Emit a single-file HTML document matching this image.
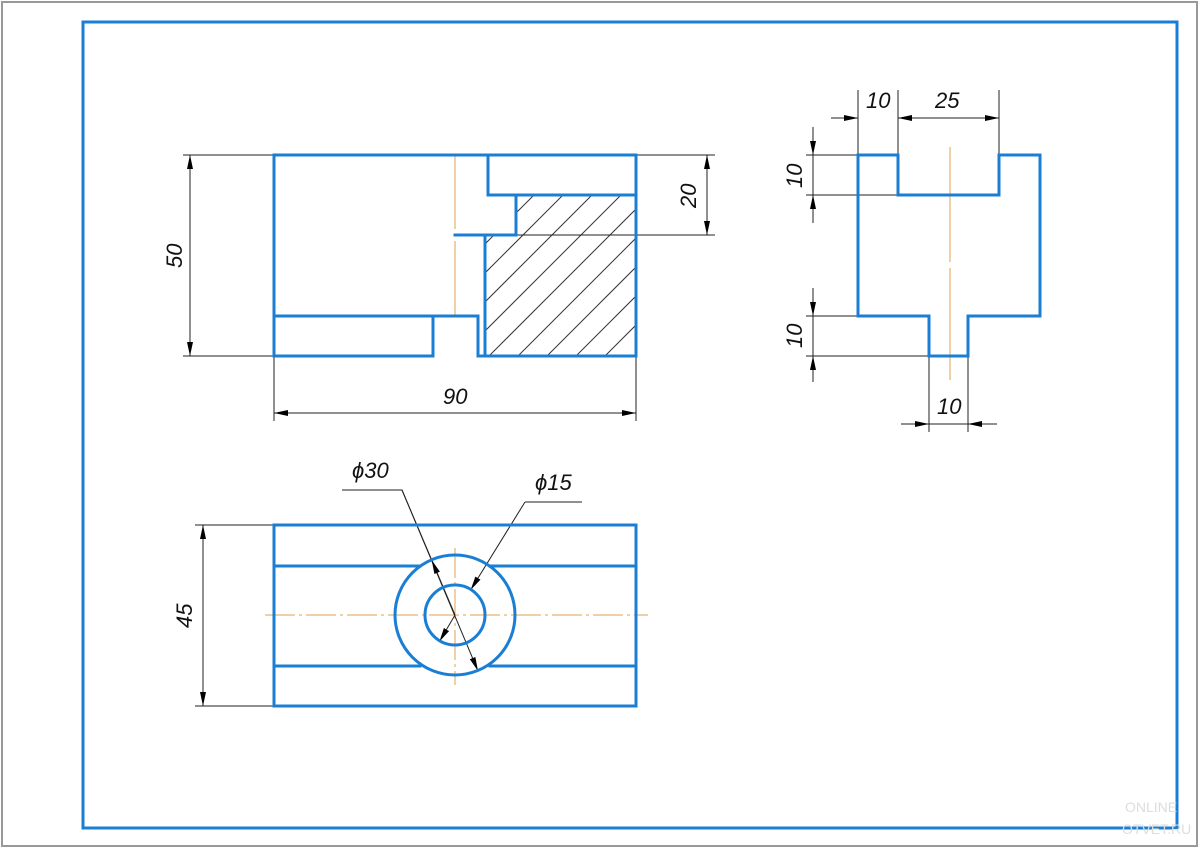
<!DOCTYPE html>
<html><head><meta charset="utf-8"><style>
html,body{margin:0;padding:0;background:#fff;}
svg{display:block;}
text{font-family:"Liberation Sans",sans-serif;font-style:italic;font-size:22px;fill:#111;}
</style></head><body>
<svg width="1200" height="850" viewBox="0 0 1200 850" xmlns="http://www.w3.org/2000/svg">
<defs>
<marker id="a" viewBox="0 0 14 6" refX="14" refY="3" markerWidth="14" markerHeight="6" markerUnits="userSpaceOnUse" orient="auto-start-reverse">
<path d="M0,0 L14,3 L0,6 z" fill="#000"/></marker>
<clipPath id="sec"><polygon points="485,356 485,235 516,235 516,195 636,195 636,356"/></clipPath>
</defs>
<rect x="2" y="2" width="1195" height="844" fill="none" stroke="#999" stroke-width="2"/>
<rect x="83" y="22" width="1094" height="806" fill="none" stroke="#1a7fd4" stroke-width="3"/>

<g clip-path="url(#sec)" stroke="#333" stroke-width="1">
<line x1="300" y1="400" x2="600" y2="100"/><line x1="329" y1="400" x2="629" y2="100"/>
<line x1="358" y1="400" x2="658" y2="100"/><line x1="387" y1="400" x2="687" y2="100"/>
<line x1="416" y1="400" x2="716" y2="100"/><line x1="445" y1="400" x2="745" y2="100"/>
<line x1="474" y1="400" x2="774" y2="100"/><line x1="503" y1="400" x2="803" y2="100"/>
<line x1="532" y1="400" x2="832" y2="100"/><line x1="561" y1="400" x2="861" y2="100"/>
<line x1="590" y1="400" x2="890" y2="100"/><line x1="619" y1="400" x2="919" y2="100"/>
<line x1="648" y1="400" x2="948" y2="100"/>
</g>

<g stroke="#e0a050" stroke-width="1">
<line x1="455" y1="155" x2="455" y2="229"/><line x1="455" y1="241" x2="455" y2="316"/>
<line x1="950" y1="147" x2="950" y2="262"/><line x1="950" y1="268" x2="950" y2="380"/>
<line x1="455" y1="548" x2="455" y2="685" stroke-dasharray="30 4 3 4"/>
<line x1="265" y1="615" x2="648" y2="615" stroke-dasharray="30 4 3 4"/>
</g>

<g stroke="#222" stroke-width="1" fill="none">
<line x1="183" y1="155" x2="274" y2="155"/><line x1="183" y1="356" x2="274" y2="356"/>
<line x1="190" y1="155" x2="190" y2="356" marker-start="url(#a)" marker-end="url(#a)"/>
<line x1="636" y1="155" x2="715" y2="155"/><line x1="516" y1="235" x2="715" y2="235"/>
<line x1="707" y1="155" x2="707" y2="235" marker-start="url(#a)" marker-end="url(#a)"/>
<line x1="274" y1="356" x2="274" y2="421"/><line x1="636" y1="356" x2="636" y2="421"/>
<line x1="274" y1="413" x2="636" y2="413" marker-start="url(#a)" marker-end="url(#a)"/>
<line x1="858" y1="90" x2="858" y2="155"/><line x1="898" y1="90" x2="898" y2="195"/><line x1="999" y1="90" x2="999" y2="155"/>
<line x1="831" y1="118" x2="858" y2="118" marker-end="url(#a)"/>
<line x1="898" y1="118" x2="999" y2="118" marker-start="url(#a)" marker-end="url(#a)"/>
<line x1="806" y1="155" x2="858" y2="155"/><line x1="806" y1="195" x2="898" y2="195"/>
<line x1="813" y1="127" x2="813" y2="155" marker-end="url(#a)"/>
<line x1="813" y1="223" x2="813" y2="195" marker-end="url(#a)"/>
<line x1="813" y1="155" x2="813" y2="195"/>
<line x1="806" y1="316" x2="858" y2="316"/><line x1="806" y1="356" x2="929" y2="356"/>
<line x1="813" y1="288" x2="813" y2="316" marker-end="url(#a)"/>
<line x1="813" y1="382" x2="813" y2="356" marker-end="url(#a)"/>
<line x1="813" y1="316" x2="813" y2="356"/>
<line x1="929" y1="356" x2="929" y2="432"/><line x1="968" y1="356" x2="968" y2="432"/>
<line x1="901" y1="424" x2="929" y2="424" marker-end="url(#a)"/>
<line x1="997" y1="424" x2="968" y2="424" marker-end="url(#a)"/>
<line x1="929" y1="424" x2="968" y2="424"/>
<line x1="195" y1="525" x2="274" y2="525"/><line x1="195" y1="706" x2="274" y2="706"/>
<line x1="203" y1="525" x2="203" y2="706" marker-start="url(#a)" marker-end="url(#a)"/>
<polyline points="342,490 402,490 431.7,560"/>
<line x1="402" y1="490" x2="478" y2="671" marker-end="url(#a)"/>
<line x1="455" y1="615" x2="431.7" y2="560" marker-end="url(#a)"/>
<line x1="582" y1="502" x2="525" y2="502"/>
<line x1="525" y1="502" x2="470.6" y2="590" marker-end="url(#a)"/>
<line x1="455" y1="615" x2="439.4" y2="641.6" marker-end="url(#a)"/>
</g>

<g stroke="#1a7fd4" stroke-width="3" fill="none" stroke-linecap="square">
<line x1="274" y1="155" x2="636" y2="155"/>
<line x1="274" y1="155" x2="274" y2="356"/>
<line x1="636" y1="155" x2="636" y2="356"/>
<polyline points="488,155 488,195 636,195"/>
<polyline points="516,195 516,235 455,235"/>
<line x1="485" y1="235" x2="485" y2="356"/>
<polyline points="274,316 478,316 478,356"/>
<line x1="433" y1="316" x2="433" y2="356"/>
<line x1="274" y1="356" x2="433" y2="356"/>
<line x1="478" y1="356" x2="636" y2="356"/>
<polygon points="858,155 898,155 898,195 999,195 999,155 1040,155 1040,316 968,316 968,356 929,356 929,316 858,316"/>
<rect x="274" y="525" width="362" height="181"/>
<line x1="274" y1="566" x2="420" y2="566"/><line x1="490" y1="566" x2="636" y2="566"/>
<line x1="274" y1="666" x2="420" y2="666"/><line x1="490" y1="666" x2="636" y2="666"/>
<circle cx="455" cy="615" r="60"/>
<circle cx="455" cy="615" r="30"/>
</g>

<text x="0" y="0" transform="translate(182,268) rotate(-90)">50</text>
<text x="0" y="0" transform="translate(696,208) rotate(-90)">20</text>
<text x="443" y="404">90</text>
<text x="866" y="108">10</text>
<text x="935" y="108">25</text>
<text x="0" y="0" transform="translate(802,188) rotate(-90)">10</text>
<text x="0" y="0" transform="translate(802,348) rotate(-90)">10</text>
<text x="937" y="414">10</text>
<text x="0" y="0" transform="translate(192,628) rotate(-90)">45</text>
<text x="352" y="478">ϕ30</text>
<text x="535" y="490">ϕ15</text>
<text x="1125" y="812" style="font-style:normal;font-size:14px;fill:#ddd">ONLINE</text>
<text x="1122" y="834" style="font-style:normal;font-size:14px;fill:#ddd">OTVET.RU</text>
</svg>
</body></html>
